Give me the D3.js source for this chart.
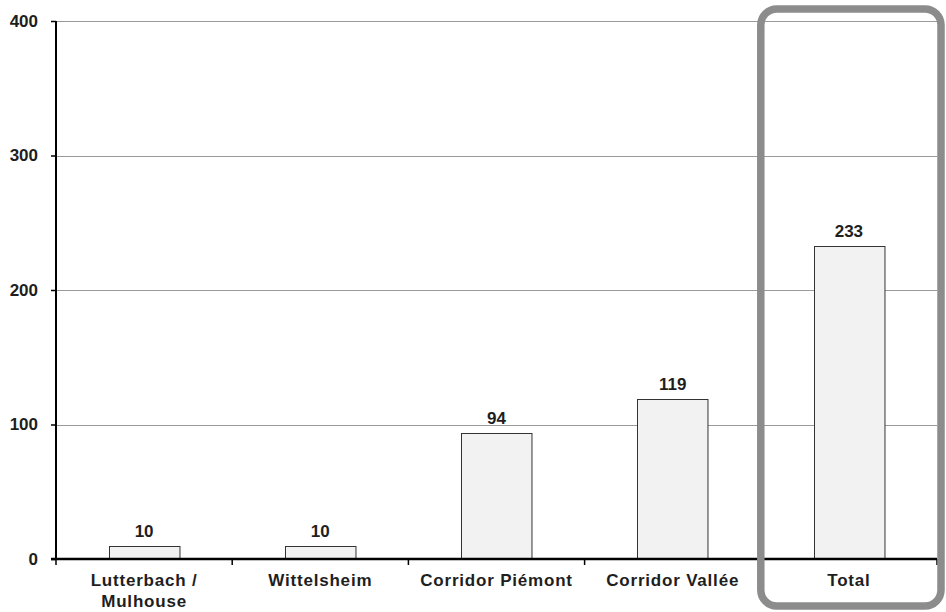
<!DOCTYPE html>
<html>
<head>
<meta charset="utf-8">
<script src="https://cdn.jsdelivr.net/npm/d3@7"></script>
<style>
  html, body { margin: 0; padding: 0; background: #fff; }
  svg { display: block; }
  text { font-family: "Liberation Sans", Arial, sans-serif; font-weight: bold; fill: #1e1e1e; }
</style>
</head>
<body>
<svg id="chart" width="946" height="612"></svg>
<script>
// Category names (line breaks marked with "\n")
const categories = ["Lutterbach /\nMulhouse", "Wittelsheim", "Corridor Piémont", "Corridor Vallée", "Total"];
// Values per category
const values = [10, 10, 94, 119, 233];
// Y axis ticks
const yTicks = [0, 100, 200, 300, 400];

const FS = 17;
const svg = d3.select("#chart");
const margin = { left: 56, right: 9, top: 21, bottom: 53 };
const W = 946, H = 612;

const x = d3.scaleBand()
  .domain(categories)
  .range([margin.left, W - margin.right])
  .paddingInner(0.6)
  .paddingOuter(0.3);

const xOuter = d3.scaleBand()
  .domain(categories)
  .range([margin.left, W - margin.right]);

const y = d3.scaleLinear()
  .domain([0, 400])
  .range([H - margin.bottom, margin.top]);

// Horizontal gridlines
svg.append("g")
  .selectAll("line")
  .data(yTicks.filter(d => d > 0))
  .join("line")
  .attr("x1", margin.left)
  .attr("x2", W - margin.right)
  .attr("y1", d => Math.round(y(d)) + 0.5)
  .attr("y2", d => Math.round(y(d)) + 0.5)
  .attr("stroke", "#9a9a9a")
  .attr("stroke-width", 1);

// Bars
svg.append("g")
  .selectAll("rect")
  .data(values)
  .join("rect")
  .attr("x", (d, i) => Math.round(x(categories[i])) + 0.5)
  .attr("y", d => Math.round(y(d)) + 0.5)
  .attr("width", x.bandwidth())
  .attr("height", d => y(0) - Math.round(y(d)) - 0.5)
  .attr("fill", "#f2f2f2")
  .attr("stroke", "#333")
  .attr("stroke-width", 1);

// Value labels
svg.append("g")
  .selectAll("text")
  .data(values)
  .join("text")
  .attr("x", (d, i) => x(categories[i]) + x.bandwidth() / 2)
  .attr("y", d => y(d) - 9)
  .attr("text-anchor", "middle")
  .attr("font-size", FS)
  .text(d => d);

// Y axis
const yAxis = d3.axisLeft(y).tickValues(yTicks).tickSize(5).tickPadding(13);
const gy = svg.append("g")
  .attr("transform", `translate(${margin.left},0)`)
  .call(yAxis);
gy.select(".domain").attr("stroke", "#000").attr("stroke-width", 2).attr("d", `M0,${y(400)}V${y(0)}`);
gy.selectAll(".tick line").attr("stroke", "#000").attr("stroke-width", 1.5);
gy.selectAll(".tick text")
  .attr("font-size", FS)
  .attr("font-family", "Liberation Sans, Arial, sans-serif")
  .attr("font-weight", "bold")
  .attr("fill", "#1e1e1e");

// X axis line with category boundary ticks
const gx = svg.append("g");
gx.append("line")
  .attr("x1", margin.left - 5)
  .attr("x2", W - margin.right)
  .attr("y1", y(0))
  .attr("y2", y(0))
  .attr("stroke", "#000")
  .attr("stroke-width", 2.5);
const bounds = categories.map(c => xOuter(c)).concat([W - margin.right]);
gx.selectAll("line.bt")
  .data(bounds)
  .join("line")
  .attr("class", "bt")
  .attr("x1", d => d)
  .attr("x2", d => d)
  .attr("y1", y(0))
  .attr("y2", y(0) + 6)
  .attr("stroke", "#000")
  .attr("stroke-width", 1.5);

// Category labels
const labels = gx.selectAll("text.cat")
  .data(categories)
  .join("text")
  .attr("class", "cat")
  .attr("x", d => xOuter(d) + xOuter.bandwidth() / 2)
  .attr("y", y(0) + 27)
  .attr("text-anchor", "middle")
  .attr("letter-spacing", 0.8)
  .attr("font-size", FS);
labels.each(function(d) {
  const t = d3.select(this);
  d.split("\n").forEach((line, i) => {
    t.append("tspan")
      .attr("x", xOuter(d) + xOuter.bandwidth() / 2)
      .attr("dy", i === 0 ? 0 : 21)
      .text(line);
  });
});

// Highlight frame around the total column
const last = categories[categories.length - 1];
svg.append("rect")
  .attr("x", xOuter(last))
  .attr("y", 9)
  .attr("width", W - 5 - xOuter(last))
  .attr("height", 597)
  .attr("rx", 16)
  .attr("ry", 16)
  .attr("fill", "none")
  .attr("stroke", "#8c8c8c")
  .attr("stroke-width", 7.5);
</script>
</body>
</html>
